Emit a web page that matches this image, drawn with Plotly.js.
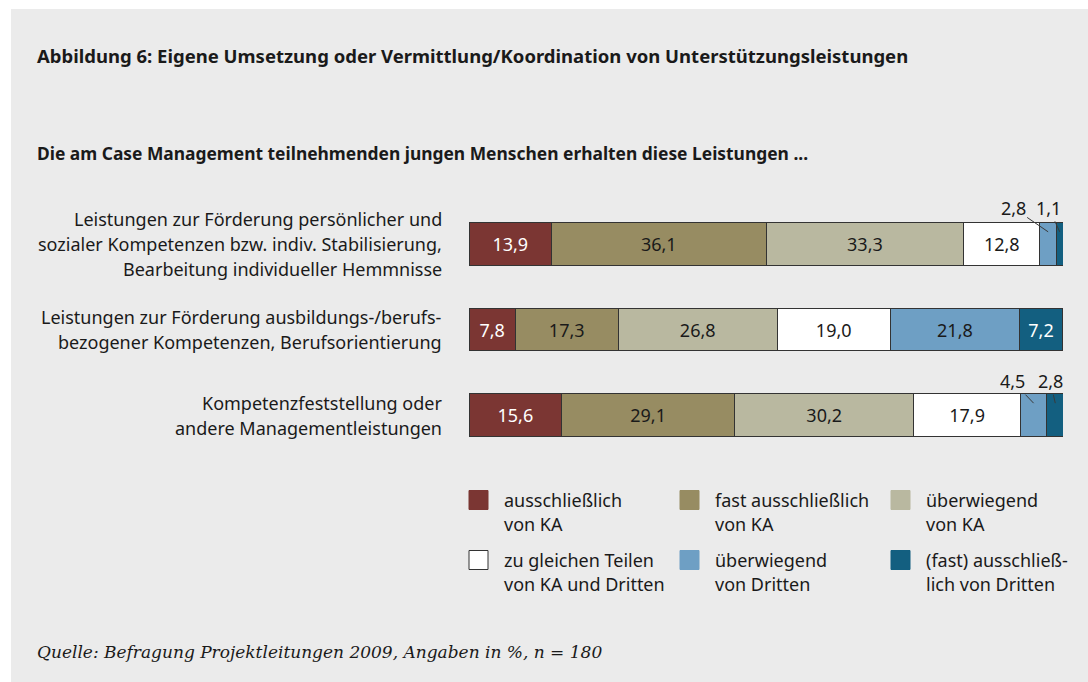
<!DOCTYPE html>
<html>
<head>
<meta charset="utf-8">
<script src="https://cdn.plot.ly/plotly-3.0.1.min.js"></script>
<style>
  html, body { margin: 0; padding: 0; background: #ffffff; }
  #chart { position: absolute; left: 11px; top: 9px; width: 1077px; height: 673px; }
</style>
</head>
<body>
<div id="chart"></div>
<script>
// ---------- DATA ----------
const categories = [
  "Leistungen zur Förderung persönlicher und<br>sozialer Kompetenzen bzw. indiv. Stabilisierung,<br>Bearbeitung individueller Hemmnisse",
  "Leistungen zur Förderung ausbildungs-/berufs-<br>bezogener Kompetenzen, Berufsorientierung",
  "Kompetenzfeststellung oder<br>andere Managementleistungen"
];
const seriesNames = [
  "ausschließlich<br>von KA",
  "fast ausschließlich<br>von KA",
  "überwiegend<br>von KA",
  "zu gleichen Teilen<br>von KA und Dritten",
  "überwiegend<br>von Dritten",
  "(fast) ausschließ-<br>lich von Dritten"
];
const ausschliesslichKA     = [13.9, 7.8, 15.6];
const fastAusschliesslichKA = [36.1, 17.3, 29.1];
const ueberwiegendKA        = [33.3, 26.8, 30.2];
const gleicheTeile          = [12.8, 19.0, 17.9];
const ueberwiegendDritte    = [2.8, 21.8, 4.5];
const fastAusschlDritte     = [1.1, 7.2, 2.8];
const seriesValues = [ausschliesslichKA, fastAusschliesslichKA, ueberwiegendKA,
                      gleicheTeile, ueberwiegendDritte, fastAusschlDritte];

const titleText = "Abbildung 6: Eigene Umsetzung oder Vermittlung/Koordination von Unterstützungsleistungen";
const subtitleText = "Die am Case Management teilnehmenden jungen Menschen erhalten diese Leistungen ...";
const sourceText = "Quelle: Befragung Projektleitungen 2009, Angaben in %, n = 180";

// ---------- STYLE ----------
const colors = ["#7b3633", "#978c62", "#b9b8a0", "#ffffff", "#6e9fc4", "#135f80"];
const textColors = ["#ffffff", "#1a1a1a", "#1a1a1a", "#1a1a1a", "#1a1a1a", "#ffffff"];
const FONT = "'Noto Sans', 'Open Sans', sans-serif";
const FS = 18;
const TXT = "#1a1a1a";
const SMALL = 5; // values below this are labelled outside with a leader line
// callout text offsets (px) for small segments: key "series-category"
const calloutOffsets = { "4-0": [-35, -24], "5-0": [-11, -24], "4-2": [-21, -22], "5-2": [-5, -22] };

const fmt = v => v.toFixed(1).replace(".", ",");

// ---------- TRACES ----------
const traces = seriesValues.map((vals, s) => ({
  type: "bar",
  orientation: "h",
  name: seriesNames[s],
  y: categories,
  x: vals,
  text: vals.map(v => v >= SMALL ? fmt(v) : ""),
  textposition: "inside",
  insidetextanchor: "middle",
  constraintext: "none",
  insidetextfont: { family: FONT, size: FS, color: textColors[s] },
  marker: { color: colors[s], line: { color: "#333333", width: 1 } },
  hoverinfo: "skip",
  showlegend: false
}));

// ---------- ANNOTATIONS ----------
const annotations = [];

// category labels (one annotation per line to mimic line spacing)
const LINE = 25;
categories.forEach(cat => {
  const lines = cat.split("<br>");
  lines.forEach((ln, i) => {
    const off = (i - (lines.length - 1) / 2) * LINE;
    annotations.push({
      xref: "paper", x: 0, xanchor: "right", xshift: -25,
      yref: "y", y: cat, yanchor: "middle", yshift: -off,
      text: ln, showarrow: false,
      font: { family: FONT, size: FS, color: TXT }
    });
  });
});

// callouts for small segments
categories.forEach((cat, c) => {
  let cum = 0;
  seriesValues.forEach((vals, s) => {
    const v = vals[c];
    const mid = cum + v / 2;
    cum += v;
    if (v < SMALL) {
      const o = calloutOffsets[s + "-" + c] || [0, -24];
      annotations.push({
        xref: "x", x: mid, yref: "y", y: cat, yshift: 12,
        text: fmt(v), showarrow: true, arrowhead: 0, arrowwidth: 1,
        arrowcolor: "#3a3a3a", standoff: 0,
        ax: o[0], ay: o[1],
        font: { family: FONT, size: FS, color: TXT }
      });
    }
  });
});

// legend (manual, 3 columns x 2 rows)
const shapes = [];
const COLW = 211, ROWH = 60, SYM = 19, TXTOFF = 33, LEG_TOP = -32.5, LEG_LINE = 24;
seriesNames.forEach((nm, s) => {
  const col = s % 3, row = Math.floor(s / 3);
  const x0 = col * COLW;
  const yTop = LEG_TOP - row * ROWH;
  shapes.push({
    type: "rect", xref: "paper", yref: "paper",
    xsizemode: "pixel", ysizemode: "pixel", xanchor: 0, yanchor: 0,
    x0: x0, x1: x0 + SYM, y0: yTop, y1: yTop - SYM,
    fillcolor: colors[s],
    line: { color: colors[s] === "#ffffff" ? "#333333" : colors[s], width: 1 }
  });
  nm.split("<br>").forEach((ln, i) => {
    annotations.push({
      xref: "paper", x: 0, xanchor: "left", xshift: x0 + TXTOFF,
      yref: "paper", y: 0, yanchor: "middle", yshift: yTop - SYM / 2 - i * LEG_LINE,
      text: ln, showarrow: false,
      font: { family: FONT, size: FS, color: TXT }
    });
  });
});

// title, subtitle, source
annotations.push({
  xref: "paper", x: 0, xanchor: "left", xshift: -434,
  yref: "paper", y: 1, yanchor: "middle", yshift: 145.5,
  text: "<b>" + titleText + "</b>", showarrow: false,
  font: { family: FONT, size: 18.5, color: TXT }
});
annotations.push({
  xref: "paper", x: 0, xanchor: "left", xshift: -434,
  yref: "paper", y: 1, yanchor: "middle", yshift: 48.5,
  text: "<b>" + subtitleText + "</b>", showarrow: false,
  font: { family: FONT, size: 17.4, color: TXT }
});
annotations.push({
  xref: "paper", x: 0, xanchor: "left", xshift: -434,
  yref: "paper", y: 0, yanchor: "middle", yshift: -193.5,
  text: "<i>" + sourceText + "</i>", showarrow: false,
  font: { family: "'DejaVu Serif', 'Liberation Serif', serif", size: 17, color: TXT }
});

// ---------- LAYOUT ----------
const layout = {
  width: 1077, height: 673,
  paper_bgcolor: "#ebebeb", plot_bgcolor: "rgba(0,0,0,0)",
  margin: { l: 458, r: 25, t: 191.5, b: 223.5, pad: 0 },
  barmode: "stack", bargap: 0.5,
  separators: ",.",
  showlegend: false,
  xaxis: { range: [0, 100], visible: false, fixedrange: true },
  yaxis: { type: "category", categoryarray: categories, range: [2.5, -0.5],
           showticklabels: false, showgrid: false, zeroline: false, showline: false, ticks: "" },
  annotations: annotations,
  shapes: shapes
};

Plotly.newPlot("chart", traces, layout, { displayModeBar: false, staticPlot: true });
</script>
</body>
</html>
